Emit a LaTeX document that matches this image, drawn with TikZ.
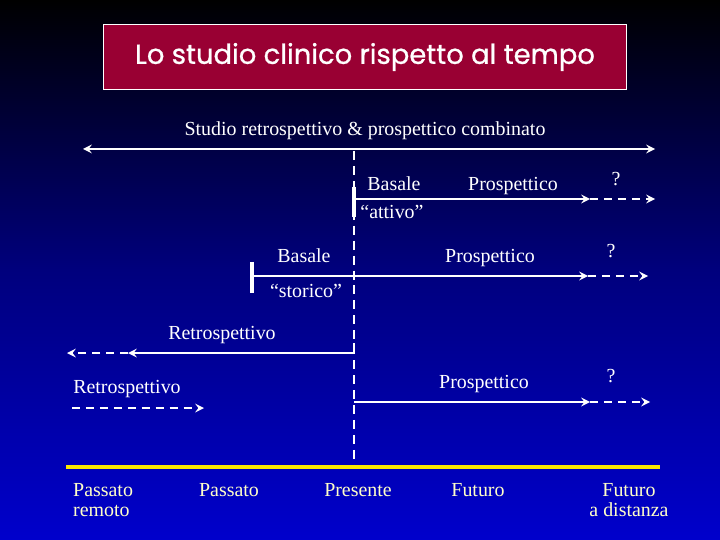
\documentclass[tikz,border=0pt]{standalone}
\usepackage{fontspec}
\setmainfont{Liberation Serif}
\newfontfamily\titlefont[FakeBold=0.8]{Poppins}
\usetikzlibrary{arrows}
\definecolor{titlered}{RGB}{153,0,51}
\definecolor{deepblue}{RGB}{0,0,204}
\definecolor{midblue}{RGB}{0,0,125}
\definecolor{lineyellow}{RGB}{250,232,0}
\definecolor{paleyellow}{RGB}{255,255,200}
\tikzstyle{titlebox} = [rectangle, minimum width=525, minimum height=65, fill=titlered, draw=white, line width=1pt, text=white, font=\titlefont\fontsize{27.5}{29}\selectfont]
\tikzstyle{lbl} = [text=white, inner sep=0pt, text height=13pt, text depth=4pt, font=\fontsize{20}{22}\selectfont]
\tikzstyle{timelbl} = [text=paleyellow, inner sep=0pt, font=\fontsize{20}{20}\selectfont]
\tikzstyle{arrow} = [white, line width=2.8pt, ->, >=stealth]
\tikzstyle{dasharrow} = [arrow, dash pattern=on 8pt off 6pt]
\tikzstyle{tick} = [white, line width=3.2pt]

\begin{document}
\begin{tikzpicture}[x=1bp, y=-1bp]
                 \shade [top color=black, bottom color=deepblue, middle color=midblue] (0,0) rectangle (720,540);
                 \useasboundingbox (0,0) rectangle (720,540);
                 \node [titlebox] at (365,57) (title) {Lo studio clinico rispetto al tempo};
                 \node [lbl] at (365,131) (combined) {Studio retrospettivo \&\ prospettico combinato};
                 % linea combinata
                 \coordinate (topL) at (83,149);
                 \coordinate (topR) at (655,149);
                 \draw [arrow, <->] (topL) -- (topR);
                 % presente
                 \coordinate (nowtop) at (354,151);
                 \coordinate (nowbot) at (354,466);
                 \draw [white, line width=2.8pt, dash pattern=on 9pt off 6pt] (nowtop) -- (nowbot);
                 % basale attivo
                 \node [lbl] at (394,186) (bas1) {Basale};
                 \node [lbl] at (513,186) (pro1) {Prospettico};
                 \node [lbl] at (616,181) (q1) {?};
                 \node [lbl] at (392,214) (attivo) {“attivo”};
                 \coordinate (a0) at (354,199);
                 \coordinate (a1) at (590,199);
                 \coordinate (a2) at (655,199);
                 \draw [tick] (354,187) -- (354,217);
                 \draw [arrow] (a0) -- (a1);
                 \draw [dasharrow] (a1) -- (a2);
                 % basale storico
                 \node [lbl] at (304,258) (bas2) {Basale};
                 \node [lbl] at (490,258) (pro2) {Prospettico};
                 \node [lbl] at (611,253) (q2) {?};
                 \node [lbl] at (306,293) (storico) {“storico”};
                 \coordinate (s0) at (252,276);
                 \coordinate (s1) at (588,276);
                 \coordinate (s2) at (648,276);
                 \draw [tick] (252,262) -- (252,293);
                 \draw [arrow] (s0) -- (s1);
                 \draw [dasharrow] (s1) -- (s2);
                 % retrospettivo
                 \node [lbl] at (222,335) (retro1) {Retrospettivo};
                 \coordinate (r0) at (354,343);
                 \coordinate (r1) at (128,353);
                 \coordinate (r2) at (67,353);
                 \draw [arrow] (r0) |- (r1);
                 \draw [dasharrow] (r1) -- (r2);
                 \node [lbl] at (127,389) (retro2) {Retrospettivo};
                 \coordinate (d0) at (72,408);
                 \coordinate (d1) at (204,408);
                 \draw [dasharrow] (d0) -- (d1);
                 % prospettico
                 \node [lbl] at (484,384) (pro3) {Prospettico};
                 \node [lbl] at (611,378) (q3) {?};
                 \coordinate (p0) at (354,402);
                 \coordinate (p1) at (590,402);
                 \coordinate (p2) at (650,402);
                 \draw [arrow] (p0) -- (p1);
                 \draw [dasharrow] (p1) -- (p2);
                 % asse del tempo
                 \coordinate (axL) at (66,467);
                 \coordinate (axR) at (660,467);
                 \draw [lineyellow, line width=4.5pt] (axL) -- (axR);
                 \node [timelbl, align=left, anchor=north west] at (73,483) (remoto) {Passato\\remoto};
                 \node [timelbl, anchor=north] at (229,483) (passato) {Passato};
                 \node [timelbl, anchor=north] at (358,483) (presente) {Presente};
                 \node [timelbl, anchor=north] at (478,483) (futuro) {Futuro};
                 \node [timelbl, align=center, anchor=north] at (629,483) (distanza) {Futuro\\a distanza};
\end{tikzpicture}
\end{document}
